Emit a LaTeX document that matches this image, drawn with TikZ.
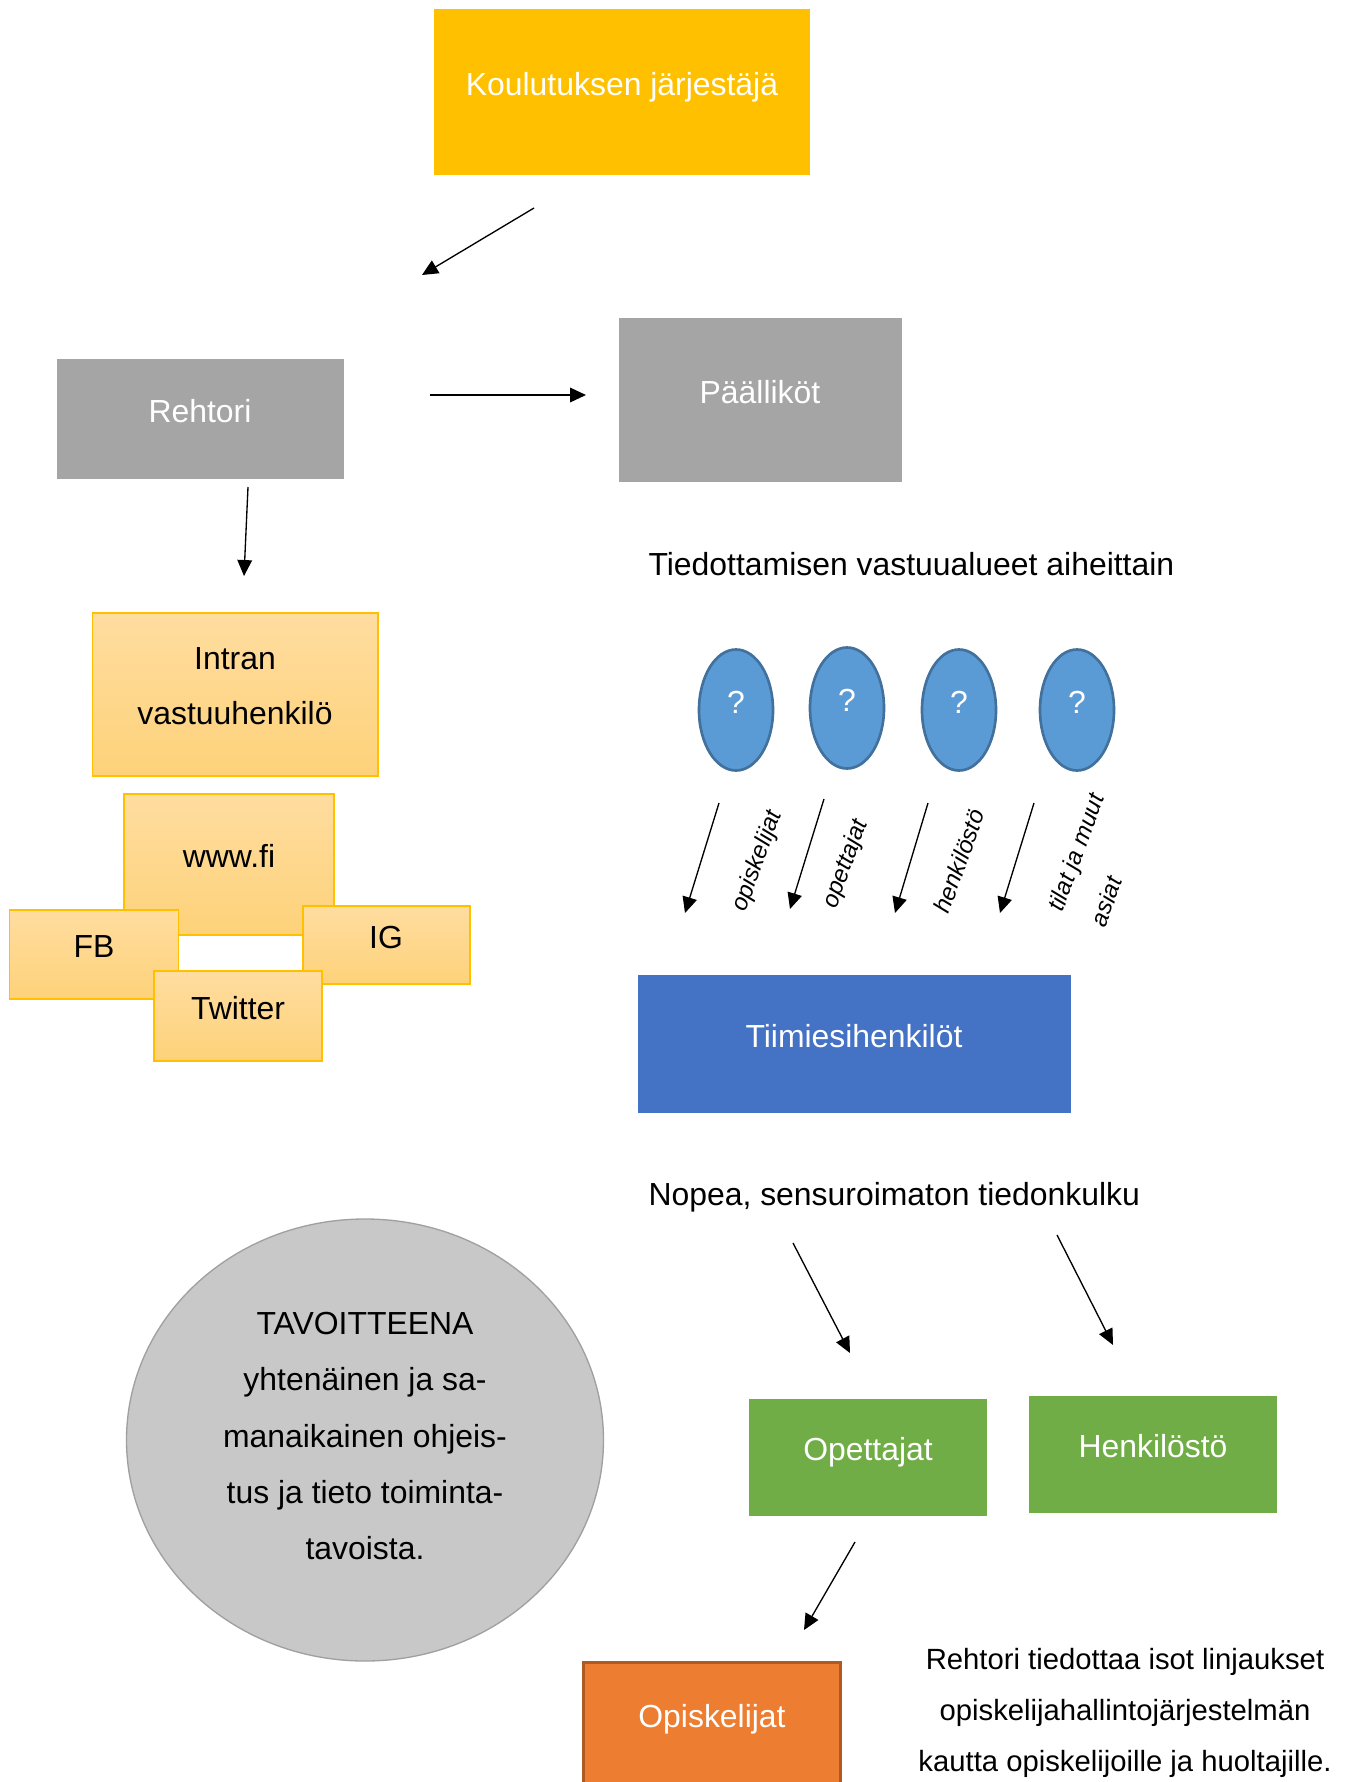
\documentclass[tikz,border=0pt]{standalone}
\usepackage{fontspec}
\setmainfont{Liberation Sans}
\usepackage{xcolor}
\usepackage{tikz}
\usetikzlibrary{arrows.meta,shapes.geometric}
\definecolor{orgGold}{HTML}{FFC000}
\definecolor{orgGray}{HTML}{A5A5A5}
\definecolor{lightTop}{HTML}{FFDDA0}
\definecolor{lightBot}{HTML}{FED27A}
\definecolor{qBlue}{HTML}{5B9BD5}
\definecolor{qEdge}{HTML}{41719C}
\definecolor{teamBlue}{HTML}{4472C4}
\definecolor{grn}{HTML}{70AD47}
\definecolor{orng}{HTML}{ED7D31}
\definecolor{orngEdge}{HTML}{AE5A21}
\definecolor{goalGray}{HTML}{C8C8C8}
\definecolor{goalEdge}{HTML}{A0A0A0}
\newcommand{\pxu}{0.376pt}
\tikzset{
  boxsize/.style 2 args={minimum width=#1*\pxu, minimum height=#2*\pxu},
  orgBox/.style={rectangle, inner sep=0pt, outer sep=0pt, text depth=6pt, font=\fontsize{12}{14}\selectfont},
  solidBox/.style={orgBox, fill=#1, text=white},
  lightBox/.style={orgBox, draw=orgGold, line width=0.75pt, top color=lightTop, bottom color=lightBot, text=black},
  qDot/.style={orgBox, ellipse, boxsize={74}{121}, fill=qBlue, draw=qEdge, line width=1pt, text=white},
  flow/.style={draw=black, line width=0.5pt, -{Triangle[length=6pt,width=5.5pt]}},
  sideLbl/.style={rotate=70, inner sep=0pt, font=\fontsize{9}{17}\selectfont\itshape, align=left},
  plainTxt/.style={inner sep=0pt, font=\fontsize{12}{14}\selectfont},
}

\begin{document}
\begin{tikzpicture}[x=\pxu, y=-\pxu]
  \fill[white] (0,0) rectangle (1348,1782);
  \useasboundingbox (0,0) rectangle (1348,1782);

  % Management chain
  \node[solidBox=orgGold, boxsize={376}{166}] (kj) at (622,92) {Koulutuksen järjestäjä};
  \node[solidBox=orgGray, boxsize={287}{120}] (rehtori) at (200,419) {Rehtori};
  \node[solidBox=orgGray, boxsize={283}{164}] (paallikot) at (760,400) {Päälliköt};

  \coordinate (kjS) at (534,208);  \coordinate (kjE) at (422,275);
  \coordinate (reS) at (430,395);  \coordinate (reE) at (586,395);
  \coordinate (rdS) at (248,487);  \coordinate (rdE) at (244,576);
  \draw[flow] (kjS) -- (kjE);
  \draw[flow] (reS) -- (reE);
  \draw[flow] (rdS) -- (rdE);

  % Channels
  \node[lightBox, boxsize={285}{163}, align=center, font=\fontsize{12}{20.7}\selectfont]
    (intra) at (235,694) {Intran\\vastuuhenkilö};
  \node[lightBox, boxsize={210}{141}] (www) at (229,864) {www.fi};
  \node[lightBox, boxsize={169}{89}] (fb) at (94,954) {FB};
  \node[lightBox, boxsize={167}{78}] (ig) at (386,945) {IG};
  \node[lightBox, boxsize={168}{90}] (twitter) at (238,1016) {Twitter};

  % Areas of responsibility
  \node[plainTxt, anchor=west] (tiedot) at (648,564) {Tiedottamisen vastuualueet aiheittain};
  \node[qDot] (q1) at (736,710) {?};
  \node[qDot] (q2) at (847,708) {?};
  \node[qDot] (q3) at (959,710) {?};
  \node[qDot] (q4) at (1077,710) {?};

  \coordinate (q1S) at (719,803);  \coordinate (q1E) at (685,913);
  \coordinate (q2S) at (824,799);  \coordinate (q2E) at (790,909);
  \coordinate (q3S) at (928,803);  \coordinate (q3E) at (895,913);
  \coordinate (q4S) at (1034,803); \coordinate (q4E) at (1000,913);
  \draw[flow] (q1S) -- (q1E);
  \draw[flow] (q2S) -- (q2E);
  \draw[flow] (q3S) -- (q3E);
  \draw[flow] (q4S) -- (q4E);

  \node[sideLbl] (l1) at (758,861) {opiskelijat};
  \node[sideLbl] (l2) at (846,864) {opettajat};
  \node[sideLbl] (l3) at (959,861) {henkilöstö};
  \node[sideLbl] (l4) at (1097,860) {tilat ja muut\\asiat};

  \node[solidBox=teamBlue, boxsize={433}{138}] (tiimi) at (854,1044) {Tiimiesihenkilöt};

  % Fast flow
  \node[plainTxt, anchor=west] (nopea) at (648,1197) {Nopea, sensuroimaton tiedonkulku};
  \coordinate (n1S) at (793,1243);  \coordinate (n1E) at (850,1353);
  \coordinate (n2S) at (1057,1235); \coordinate (n2E) at (1113,1345);
  \draw[flow] (n1S) -- (n1E);
  \draw[flow] (n2S) -- (n2E);

  \node[orgBox, ellipse, text depth=3pt, boxsize={477}{442}, fill=goalGray, draw=goalEdge,
    line width=0.5pt, align=center, font=\fontsize{12}{21.2}\selectfont] (goal) at (365,1440)
    {TAVOITTEENA\\yhtenäinen ja sa-\\manaikainen ohjeis-\\tus ja tieto toiminta-\\tavoista.};

  \node[solidBox=grn, boxsize={238}{117}] (opettajat) at (868,1457) {Opettajat};
  \node[solidBox=grn, boxsize={248}{117}] (henk) at (1153,1454) {Henkilöstö};

  \coordinate (oS) at (855,1542);  \coordinate (oE) at (804,1630);
  \draw[flow] (oS) -- (oE);

  \node[solidBox=orng, draw=orngEdge, line width=1pt, boxsize={257}{123}] (opisk) at (712,1724) {Opiskelijat};

  \node[plainTxt, align=center, font=\fontsize{11}{19.2}\selectfont] (huom) at (1125,1713)
    {Rehtori tiedottaa isot linjaukset\\opiskelijahallintojärjestelmän\\kautta opiskelijoille ja huoltajille.};
\end{tikzpicture}
\end{document}
